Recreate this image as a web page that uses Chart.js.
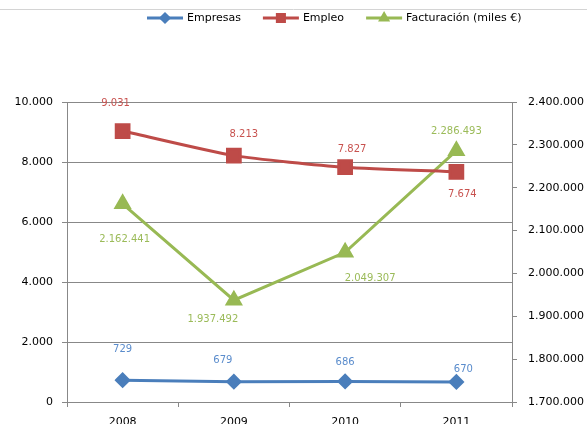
<!DOCTYPE html>
<html>
<head>
<meta charset="utf-8">
<script src="https://cdn.jsdelivr.net/npm/chart.js@4.4.0/dist/chart.umd.min.js"></script>
<style>
  html, body { margin: 0; padding: 0; background: #fff; }
  #wrap { width: 587px; height: 424px; position: relative; }
</style>
</head>
<body>
<div id="wrap"><canvas id="chart"></canvas></div>
<script>
const years = ['2008', '2009', '2010', '2011'];
const empresas = [729, 679, 686, 670];
const empleo = [9031, 8213, 7827, 7674];
const facturacion = [2162441, 1937492, 2049307, 2286493];

const FONT = 'DejaVu Sans';
const GRID = '#888888';

// spanish thousands separator
const fmt = v => String(Math.round(v)).replace(/\B(?=(\d{3})+(?!\d))/g, '.');

// label offsets from each point (px), per series
const labelOffsets = [
    [[0, -31], [-11, -21], [0, -19], [7, -12]],
    [[-7, -28], [10, -21], [7, -18], [6, 23]],
    [[2, 36], [-21, 19], [25, 26], [0, -19]]
];
const labelColors = ['#5a8ccc', '#c8524f', '#9bbb59'];

const data = {
    labels: years,
    datasets: [
        {
            label: 'Empresas',
            data: empresas,
            borderColor: '#4a7ebb',
            backgroundColor: '#4a7ebb',
            pointStyle: 'rectRot',
            pointRadius: 6,
            borderWidth: 3,
            yAxisID: 'y'
        },
        {
            label: 'Empleo',
            data: empleo,
            borderColor: '#be4b48',
            backgroundColor: '#be4b48',
            pointStyle: 'rect',
            pointRadius: 9,
            borderWidth: 3,
            tension: 0.2,
            yAxisID: 'y'
        },
        {
            label: 'Facturación (miles €)',
            data: facturacion,
            borderColor: '#98b954',
            backgroundColor: '#98b954',
            pointStyle: 'triangle',
            pointRadius: 7.5,
            borderWidth: 3,
            yAxisID: 'y1'
        }
    ]
};

const valueLabels = {
    id: 'valueLabels',
    afterDatasetsDraw(chart) {
        const ctx = chart.ctx;
        ctx.save();
        ctx.font = '10px "' + FONT + '"';
        ctx.textAlign = 'center';
        ctx.textBaseline = 'middle';
        chart.data.datasets.forEach((ds, i) => {
            const meta = chart.getDatasetMeta(i);
            ctx.fillStyle = labelColors[i];
            meta.data.forEach((pt, j) => {
                const off = labelOffsets[i][j];
                ctx.fillText(fmt(ds.data[j]), pt.x + off[0], pt.y + off[1]);
            });
        });
        ctx.restore();
    }
};

// excel style legend: short line with marker, then text
const topLegend = {
    id: 'topLegend',
    afterDraw(chart) {
        const ctx = chart.ctx;
        ctx.save();
        ctx.strokeStyle = '#d4d4d4';
        ctx.lineWidth = 1;
        ctx.beginPath();
        ctx.moveTo(0, 9.5);
        ctx.lineTo(chart.width, 9.5);
        ctx.stroke();

        ctx.font = '11px "' + FONT + '"';
        ctx.textBaseline = 'middle';
        ctx.textAlign = 'left';
        let x = 147;
        const y = 18;
        chart.data.datasets.forEach(ds => {
            ctx.strokeStyle = ds.borderColor;
            ctx.lineWidth = 3;
            ctx.beginPath();
            ctx.moveTo(x, y);
            ctx.lineTo(x + 36, y);
            ctx.stroke();
            Chart.helpers.drawPoint(ctx, {
                pointStyle: ds.pointStyle,
                radius: ds.pointStyle === 'rect' ? 5 : 4,
                borderWidth: 1,
                rotation: 0
            }, x + 18, y);
            ctx.fillStyle = ds.borderColor;
            ctx.fill();
            ctx.fillStyle = '#000';
            ctx.fillText(ds.label, x + 40, y);
            x += 40 + ctx.measureText(ds.label).width + 22;
        });
        ctx.restore();
    }
};

const tickFont = { family: FONT, size: 11 };

const config = {
    type: 'line',
    data: data,
    options: {
        responsive: true,
        maintainAspectRatio: false,
        animation: false,
        layout: { padding: { top: 102, bottom: 0, left: 0, right: 0 } },
        elements: {
            point: { borderWidth: 1 },
            line: { fill: false }
        },
        plugins: {
            legend: { display: false },
            tooltip: { enabled: false }
        },
        scales: {
            x: {
                offset: true,
                grid: { drawOnChartArea: false, drawTicks: true, tickLength: 5, color: GRID, offset: true },
                border: { color: GRID },
                ticks: { color: '#000', font: tickFont, padding: 9 },
                afterFit: s => { s.height = 22; }
            },
            y: {
                type: 'linear',
                position: 'left',
                min: 0,
                max: 10000,
                ticks: { stepSize: 2000, callback: v => fmt(v), color: '#000', font: tickFont, padding: 9 },
                grid: { color: GRID, tickLength: 5 },
                border: { color: GRID },
                afterFit: s => { s.width = 67; }
            },
            y1: {
                type: 'linear',
                position: 'right',
                min: 1700000,
                max: 2400000,
                ticks: { stepSize: 100000, callback: v => fmt(v), color: '#000', font: tickFont, padding: 11 },
                grid: { drawOnChartArea: false, tickLength: 5, color: GRID },
                border: { color: GRID },
                afterFit: s => { s.width = 75; }
            }
        }
    },
    plugins: [valueLabels, topLegend]
};

const ctx = document.getElementById('chart').getContext('2d');
new Chart(ctx, config);
</script>
</body>
</html>
